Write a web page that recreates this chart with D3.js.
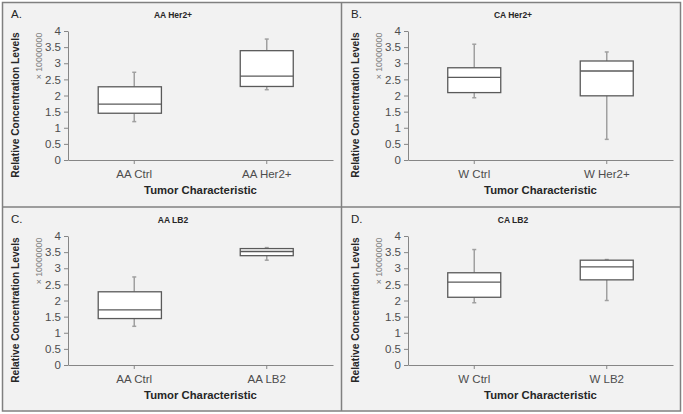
<!DOCTYPE html>
<html>
<head>
<meta charset="utf-8">
<script src="https://cdn.jsdelivr.net/npm/d3@7"></script>
<style>
  html, body { margin: 0; padding: 0; background: #ffffff; }
  svg { display: block; font-family: "Liberation Sans", Arial, sans-serif; }
</style>
</head>
<body>
<svg id="chart" width="683" height="414"></svg>
<script>
// ---------------- DATA ----------------
const panelLetters = ["A.", "B.", "C.", "D."];
const panelTitles = ["AA Her2+", "CA Her2+", "AA LB2", "CA LB2"];
const categories = [
  ["AA Ctrl", "AA Her2+"],
  ["W Ctrl", "W Her2+"],
  ["AA Ctrl", "AA LB2"],
  ["W Ctrl", "W LB2"]
];
const minValues    = [[1.19, 2.18], [1.93, 0.64], [1.20, 3.25], [1.93, 2.00]];
const q1Values     = [[1.45, 2.28], [2.09, 1.99], [1.44, 3.39], [2.10, 2.64]];
const medianValues = [[1.73, 2.60], [2.56, 2.76], [1.71, 3.52], [2.57, 3.04]];
const q3Values     = [[2.27, 3.39], [2.86, 3.07], [2.27, 3.61], [2.86, 3.25]];
const maxValues    = [[2.72, 3.75], [3.59, 3.35], [2.73, 3.64], [3.58, 3.27]];
const yTickValues = [0, 0.5, 1, 1.5, 2, 2.5, 3, 3.5, 4];
const yTickLabels = ["0", "0.5", "1", "1.5", "2", "2.5", "3", "3.5", "4"];
const yAxisTitle = "Relative Concentration Levels";
const xAxisTitle = "Tumor Characteristic";
const multiplierLabel = "\u00d7 10000000";

// ---------------- LAYOUT / STYLE ----------------
const panelOrigins = [[0, 0], [340, 0], [0, 205], [340, 205]];
const plotLeft = 68, plotRight = 333, plotTop = 31, plotBottom = 160;
// box half-widths as fraction of band (left, right); the "AA Ctrl" boxes are drawn wider in the original
const boxFrac = [[[0.272, 0.205], [0.2, 0.2]], [[0.2, 0.2], [0.2, 0.2]], [[0.272, 0.205], [0.2, 0.2]], [[0.2, 0.2], [0.2, 0.2]]];

const svg = d3.select("#chart");

// frame & background
svg.append("rect").attr("x", 2.5).attr("y", 2.5).attr("width", 678).attr("height", 408.5)
  .attr("fill", "#f2f2f2").attr("stroke", "#808080").attr("stroke-width", 1.5);
svg.append("line").attr("x1", 341.5).attr("x2", 341.5).attr("y1", 2.5).attr("y2", 411)
  .attr("stroke", "#808080").attr("stroke-width", 1.5);
svg.append("line").attr("x1", 2.5).attr("x2", 680.5).attr("y1", 207).attr("y2", 207)
  .attr("stroke", "#808080").attr("stroke-width", 1.5);

panelOrigins.forEach(([ox, oy], p) => {
  const g = svg.append("g").attr("transform", `translate(${ox},${oy})`);

  const x = d3.scaleBand().domain(categories[p]).range([plotLeft, plotRight]);
  const y = d3.scaleLinear().domain([0, 4]).range([plotBottom, plotTop]);

  // Y axis
  const yAxis = d3.axisLeft(y).tickValues(yTickValues)
    .tickFormat((d, i) => yTickLabels[i]).tickSizeInner(4).tickSizeOuter(0).tickPadding(3);
  const yg = g.append("g").attr("transform", `translate(${plotLeft},0)`).call(yAxis);
  yg.select(".domain").attr("stroke", "#868686").attr("stroke-width", 1);
  yg.selectAll(".tick line").attr("stroke", "#868686");
  yg.selectAll(".tick text").attr("fill", "#4d4d4d").attr("font-size", 11.5)
    .attr("font-family", "Liberation Sans, Arial, sans-serif");

  // X axis
  const xAxis = d3.axisBottom(x).tickSizeInner(4).tickSizeOuter(0).tickPadding(6);
  const xg = g.append("g").attr("transform", `translate(0,${plotBottom})`).call(xAxis);
  xg.select(".domain").attr("stroke", "#868686").attr("stroke-width", 1);
  xg.selectAll(".tick line").attr("stroke", "#868686");
  xg.selectAll(".tick text").attr("fill", "#4d4d4d").attr("font-size", 11.5)
    .attr("font-family", "Liberation Sans, Arial, sans-serif");

  // boxes
  categories[p].forEach((c, i) => {
    const cx = x(c) + x.bandwidth() / 2;
    const bw = x.bandwidth();
    const xl = cx - boxFrac[p][i][0] * bw;
    const xr = cx + boxFrac[p][i][1] * bw;
    // whiskers
    const wg = g.append("g").attr("stroke", "#a0a0a0").attr("stroke-width", 1.5);
    wg.append("line").attr("x1", cx).attr("x2", cx).attr("y1", y(maxValues[p][i])).attr("y2", y(q3Values[p][i]));
    wg.append("line").attr("x1", cx).attr("x2", cx).attr("y1", y(q1Values[p][i])).attr("y2", y(minValues[p][i]));
    wg.append("line").attr("x1", cx - 2).attr("x2", cx + 2).attr("y1", y(maxValues[p][i])).attr("y2", y(maxValues[p][i]));
    wg.append("line").attr("x1", cx - 2).attr("x2", cx + 2).attr("y1", y(minValues[p][i])).attr("y2", y(minValues[p][i]));
    // box
    g.append("rect").attr("x", xl).attr("y", y(q3Values[p][i]))
      .attr("width", xr - xl).attr("height", y(q1Values[p][i]) - y(q3Values[p][i]))
      .attr("fill", "#ffffff").attr("stroke", "#5a5a5a").attr("stroke-width", 1.3);
    g.append("line").attr("x1", xl).attr("x2", xr)
      .attr("y1", y(medianValues[p][i])).attr("y2", y(medianValues[p][i]))
      .attr("stroke", "#5a5a5a").attr("stroke-width", 1.3);
  });

  // panel letter
  g.append("text").attr("x", 11).attr("y", 18).text(panelLetters[p])
    .attr("font-size", 11.5).attr("fill", "#262626");
  // panel title
  g.append("text").attr("x", 173).attr("y", 17.5).attr("text-anchor", "middle")
    .text(panelTitles[p]).attr("font-size", 8.5).attr("font-weight", "bold").attr("fill", "#262626");
  // y axis title
  g.append("text").attr("transform", `translate(18.5,105) rotate(-90)`).attr("text-anchor", "middle")
    .text(yAxisTitle).attr("font-size", 10.2).attr("font-weight", "bold").attr("fill", "#262626");
  // multiplier
  g.append("text").attr("transform", `translate(42,56) rotate(-90)`).attr("text-anchor", "middle")
    .text(multiplierLabel).attr("font-size", 8.8).attr("fill", "#7f7f7f");
  // x axis title
  g.append("text").attr("x", (plotLeft + plotRight) / 2).attr("y", 194).attr("text-anchor", "middle")
    .text(xAxisTitle).attr("font-size", 11.3).attr("font-weight", "bold").attr("fill", "#262626");
});
</script>
</body>
</html>
